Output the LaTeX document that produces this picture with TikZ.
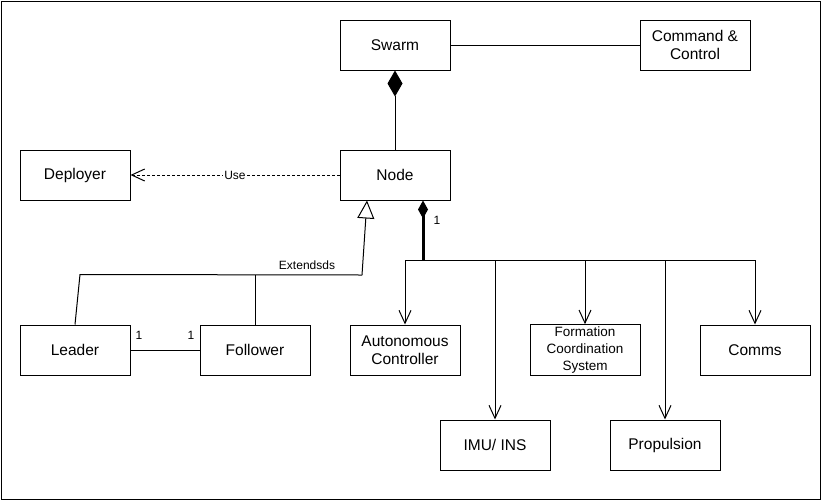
\documentclass[tikz,border=0pt]{standalone}
\usepackage{fontspec}
\setmainfont{Liberation Sans}
\usepackage{tikz}
\usetikzlibrary{arrows.meta}
\usetikzlibrary{positioning}
\tikzset{box/.style = {draw, line width = 1pt, minimum width = 110, minimum height = 50,
                       align = center, inner sep = 2, font = \fontsize{15.5}{18.5}\selectfont}}
\tikzset{lbl/.style = {inner sep = 1, font = \fontsize{12}{14}\selectfont}}
\tikzset{assoc/.style = {line width = 1pt}}
\tikzset{opento/.style = {line width = 1pt, -{Straight Barb[length = 13pt, width = 12pt]}}}
\tikzset{compose/.style = {{Diamond[length = 26pt, width = 15pt]}-}}

\begin{document}
\begin{tikzpicture}[x = 1pt, y = -1pt]
    \useasboundingbox (0, 0) rectangle (821, 501);
    \draw [line width = 1pt] (1, 1) rectangle (820, 499);

    \node [box] (swarm) at (395, 45) {Swarm};
    \node [box] (cc) at (695, 45) {Command \&\\Control};
    \node [box] (node) at (395, 175) {Node};
    \node [box] (deployer) at (75, 175) {Deployer};
    \node [box] (leader) at (75, 350) {Leader};
    \node [box] (follower) at (255, 350) {Follower};
    \node [box] (auto) at (405, 350) {Autonomous\\Controller};
    \node [box, font = \fontsize{13.5}{17}\selectfont] (formation) at (585, 350) {Formation\\Coordination\\System};
    \node [box] (comms) at (755, 350) {Comms};
    \node [box] (imu) at (495, 445) {IMU/ INS};
    \node [box] (propulsion) at (665, 445) {Propulsion};

    \draw [assoc] (swarm) -- (cc);
    \draw [assoc, compose] (swarm) -- (node);

    \draw [opento, dash pattern = on 3pt off 2pt] (node) -- (deployer)
        node [lbl, fill = white, midway] (use) {Use};

    \coordinate (extR) at (362, 275);
    \coordinate (tip) at ([xshift = -28]node.south);
    \draw [assoc] (leader.north) -- ++(5, -50) -- (extR);
    \draw [assoc, -{Triangle[open, length = 18pt, width = 17pt]}] (extR) -- (tip);
    \draw [assoc] (follower.north) -- (follower.north |- extR);
    \node [lbl] (extlbl) at (307, 265) {Extendsds};

    \draw [assoc] (leader) -- (follower);
    \node [lbl] (mulL) at (139, 335) {1};
    \node [lbl] (mulF) at (191, 335) {1};

    \coordinate (bus) at (423, 260);
    \draw [line width = 3pt, {Diamond[length = 18pt, width = 10pt]}-] ([xshift = 28]node.south) -- (bus);
    \node [lbl] (mulN) at (437, 220) {1};
    \draw [opento] (bus) -| (auto.north);
    \draw [opento] (bus) -| (imu.north);
    \draw [opento] (bus) -| (formation.north);
    \draw [opento] (bus) -| (propulsion.north);
    \draw [opento] (bus) -| (comms.north);
  \end{tikzpicture}
\end{document}
